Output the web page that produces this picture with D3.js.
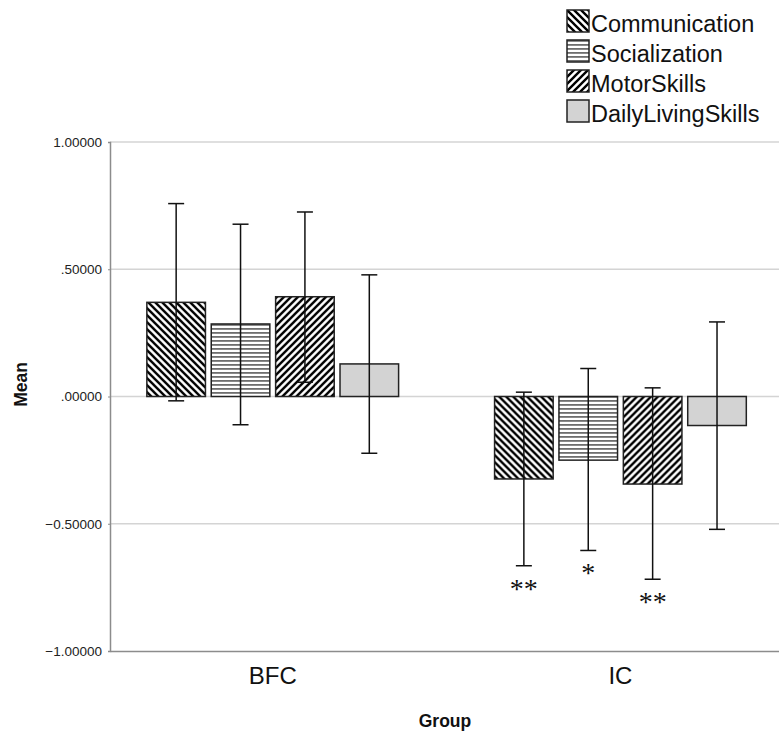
<!DOCTYPE html>
<html>
<head>
<meta charset="utf-8">
<script src="https://cdn.jsdelivr.net/npm/d3@7"></script>
<style>
  body { margin: 0; background: #fff; }
  svg { display: block; font-family: "Liberation Sans", Arial, sans-serif; }
</style>
</head>
<body>
<svg></svg>
<script>
// Data
const groups = ["BFC", "IC"];
const skills = ["Communication", "Socialization", "MotorSkills", "DailyLivingSkills"];
const bfcMeans = [0.370, 0.285, 0.392, 0.128];
const bfcLow   = [-0.017, -0.111, 0.056, -0.223];
const bfcHigh  = [0.758, 0.677, 0.725, 0.478];
const icMeans  = [-0.324, -0.250, -0.344, -0.114];
const icLow    = [-0.665, -0.605, -0.718, -0.522];
const icHigh   = [0.017, 0.110, 0.034, 0.293];
const bfcStars = ["", "", "", ""];
const icStars  = ["**", "*", "**", ""];
const yTicks = [1, 0.5, 0, -0.5, -1];

const width = 779;
const height = 734;
const plot = { left: 110, right: 779, top: 142, bottom: 651 };

const svg = d3.select("svg")
    .attr("width", width)
    .attr("height", height);

// fill patterns for each skill
const defs = svg.append("defs");
const p1 = defs.append("pattern").attr("id", "pat-comm")
    .attr("patternUnits", "userSpaceOnUse").attr("width", 7).attr("height", 7);
p1.append("rect").attr("width", 7).attr("height", 7).attr("fill", "#fff");
p1.append("path").attr("d", "M-1,-1 L8,8 M-1,6 L1,8 M6,-1 L8,1")
    .attr("stroke", "#000").attr("stroke-width", 2.4);

const p2 = defs.append("pattern").attr("id", "pat-soc")
    .attr("patternUnits", "userSpaceOnUse").attr("width", 4).attr("height", 4);
p2.append("rect").attr("width", 4).attr("height", 4).attr("fill", "#fff");
p2.append("rect").attr("y", 0).attr("width", 4).attr("height", 1.8).attr("fill", "#6e6e6e");

const p3 = defs.append("pattern").attr("id", "pat-motor")
    .attr("patternUnits", "userSpaceOnUse").attr("width", 7).attr("height", 7);
p3.append("rect").attr("width", 7).attr("height", 7).attr("fill", "#fff");
p3.append("path").attr("d", "M-1,8 L8,-1 M-1,1 L1,-1 M6,8 L8,6")
    .attr("stroke", "#000").attr("stroke-width", 2.4);

const fills = ["url(#pat-comm)", "url(#pat-soc)", "url(#pat-motor)", "#d3d3d3"];

// scales
const y = d3.scaleLinear().domain([-1, 1]).range([plot.bottom, plot.top]);

const x0 = d3.scaleBand()
    .domain(groups)
    .range([plot.left, plot.right])
    .paddingInner(0.276)
    .paddingOuter(0.1)
    .align(0.53);

const x1 = d3.scaleBand()
    .domain(skills)
    .range([0, x0.bandwidth()])
    .paddingInner(0.09)
    .paddingOuter(0);

// gridlines
svg.append("g")
    .selectAll("line")
    .data(yTicks.filter(d => d !== -1))
    .join("line")
    .attr("x1", plot.left).attr("x2", plot.right)
    .attr("y1", d => y(d)).attr("y2", d => y(d))
    .attr("stroke", "#d4d4d4")
    .attr("stroke-width", 1.5);

// y axis
const yAxis = svg.append("g")
    .attr("transform", `translate(${plot.left},0)`)
    .call(d3.axisLeft(y).tickValues(yTicks).tickSize(2).tickPadding(6)
        .tickFormat(d => d3.format(".5f")(d).replace(/^(-?)0\./, "$1.")));
yAxis.select(".domain").attr("stroke", "#8c8c8c").attr("stroke-width", 1.5);
yAxis.selectAll(".tick line").attr("stroke", "#8c8c8c");
yAxis.selectAll(".tick text")
    .style("font-size", "13.5px")
    .attr("fill", "#222");

// x axis
const xAxis = svg.append("g")
    .attr("transform", `translate(0,${plot.bottom})`)
    .call(d3.axisBottom(x0).tickSize(0).tickPadding(16).tickSizeOuter(0));
xAxis.select(".domain").attr("stroke", "#8c8c8c").attr("stroke-width", 1.5);
xAxis.selectAll(".tick text")
    .style("font-size", "24px")
    .attr("fill", "#111");

// bars
const rows = groups.map((g, gi) => skills.map((s, i) => ({
    group: g,
    skill: s,
    idx: i,
    mean: gi === 0 ? bfcMeans[i] : icMeans[i],
    low: gi === 0 ? bfcLow[i] : icLow[i],
    high: gi === 0 ? bfcHigh[i] : icHigh[i],
    stars: gi === 0 ? bfcStars[i] : icStars[i]
})));

const groupG = svg.append("g")
    .selectAll("g")
    .data(rows)
    .join("g")
    .attr("transform", (d, i) => `translate(${x0(groups[i])},0)`);

groupG.selectAll("rect")
    .data(d => d)
    .join("rect")
    .attr("x", d => x1(d.skill))
    .attr("y", d => y(Math.max(0, d.mean)))
    .attr("width", x1.bandwidth())
    .attr("height", d => Math.abs(y(d.mean) - y(0)))
    .attr("fill", d => fills[d.idx])
    .attr("stroke", "#222")
    .attr("stroke-width", 1.5);

// error bars
const capW = 16;
const err = groupG.selectAll("g.err")
    .data(d => d)
    .join("g")
    .attr("class", "err")
    .attr("transform", d => `translate(${x1(d.skill) + x1.bandwidth() / 2},0)`);

err.append("line")
    .attr("y1", d => y(d.low)).attr("y2", d => y(d.high))
    .attr("stroke", "#111").attr("stroke-width", 1.5);
err.append("line")
    .attr("x1", -capW / 2).attr("x2", capW / 2)
    .attr("y1", d => y(d.high)).attr("y2", d => y(d.high))
    .attr("stroke", "#111").attr("stroke-width", 1.5);
err.append("line")
    .attr("x1", -capW / 2).attr("x2", capW / 2)
    .attr("y1", d => y(d.low)).attr("y2", d => y(d.low))
    .attr("stroke", "#111").attr("stroke-width", 1.5);

// significance stars
err.append("text")
    .attr("y", d => y(d.low) + 32)
    .attr("text-anchor", "middle")
    .style("font-family", "'Liberation Serif', 'Times New Roman', serif")
    .style("font-size", "28px")
    .attr("fill", "#111")
    .text(d => d.stars);

// axis titles
svg.append("text")
    .attr("transform", `translate(27,${(plot.top + plot.bottom) / 2 - 12}) rotate(-90)`)
    .attr("text-anchor", "middle")
    .style("font-size", "17.5px")
    .style("font-weight", "bold")
    .attr("fill", "#111")
    .text("Mean");

svg.append("text")
    .attr("x", 445)
    .attr("y", 727)
    .attr("text-anchor", "middle")
    .style("font-size", "17.5px")
    .style("font-weight", "bold")
    .attr("fill", "#111")
    .text("Group");

// legend
const legendSize = 22;
const legend = svg.append("g")
    .selectAll("g")
    .data(skills)
    .join("g")
    .attr("transform", (d, i) => `translate(567,${10 + i * 30})`);

legend.append("rect")
    .attr("width", legendSize)
    .attr("height", legendSize)
    .attr("fill", (d, i) => fills[i])
    .attr("stroke", "#222")
    .attr("stroke-width", 1.5);

legend.append("text")
    .attr("x", legendSize + 2)
    .attr("y", legendSize - 0.5)
    .style("font-size", "23.5px")
    .attr("fill", "#111")
    .text(d => d);
</script>
</body>
</html>
